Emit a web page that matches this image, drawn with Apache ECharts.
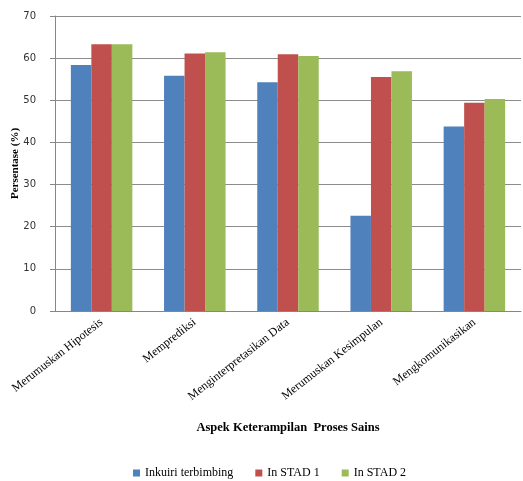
<!DOCTYPE html>
<html><head><meta charset="utf-8">
<script src="https://cdn.jsdelivr.net/npm/echarts@6/dist/echarts.min.js"></script>
<style>html,body{margin:0;padding:0;background:#fff}#c{width:523px;height:481px}</style>
</head><body><div id="c"></div>
<script>
const categories = ['Merumuskan Hipotesis','Memprediksi','Menginterpretasikan Data','Merumuskan Kesimpulan','Mengkomunikasikan'];
const seriesNames = ['Inkuiri terbimbing','In STAD 1','In STAD 2'];
const inkuiri = [58.4, 55.8, 54.3, 22.6, 43.8];
const stad1 = [63.3, 61.1, 60.9, 55.5, 49.4];
const stad2 = [63.3, 61.4, 60.5, 56.9, 50.3];
const colors = ['#4F81BD','#C0504D','#9BBB59'];
const serif = '"Liberation Serif","DejaVu Serif",serif';
const chart = echarts.init(document.getElementById('c'));
const mk = (name, data, i) => ({
  name, type:'bar', data, barWidth:20.5, barGap:'0%',
  itemStyle:{color:colors[i]}
});
chart.setOption({
  animation:false,
  grid:{left:55,right:2,top:16,bottom:170,containLabel:false,outerBoundsMode:'none'},
  legend:{
    data:seriesNames, bottom:-3, left:128, icon:'rect', itemWidth:7, itemHeight:7, itemGap:22,
    textStyle:{fontFamily:serif,fontSize:12,color:'#000'}
  },
  xAxis:{
    type:'category', data:categories,
    name:'Aspek Keterampilan  Proses Sains', nameLocation:'middle', nameGap:110,
    nameTextStyle:{fontFamily:serif,fontSize:12.5,fontWeight:'bold',color:'#000'},
    axisLine:{lineStyle:{color:'#868686'}}, axisTick:{show:false},
    axisLabel:{rotate:38,interval:0,fontFamily:serif,fontSize:12,color:'#000',margin:10}
  },
  yAxis:{
    type:'value', min:0, max:70, interval:10,
    name:'Persentase (%)', nameLocation:'middle', nameGap:34, nameMoveOverlap:false,
    nameTextStyle:{fontFamily:serif,fontSize:11,fontWeight:'bold',color:'#000'},
    axisLine:{show:true,lineStyle:{color:'#868686'}},
    axisTick:{show:true,length:5,lineStyle:{color:'#868686'}},
    axisLabel:{fontFamily:'"DejaVu Sans",sans-serif',fontSize:10,color:'#333',margin:19},
    splitLine:{lineStyle:{color:'#8c8c8c'}}
  },
  series:[mk(seriesNames[0],inkuiri,0),mk(seriesNames[1],stad1,1),mk(seriesNames[2],stad2,2)]
});
</script></body></html>
